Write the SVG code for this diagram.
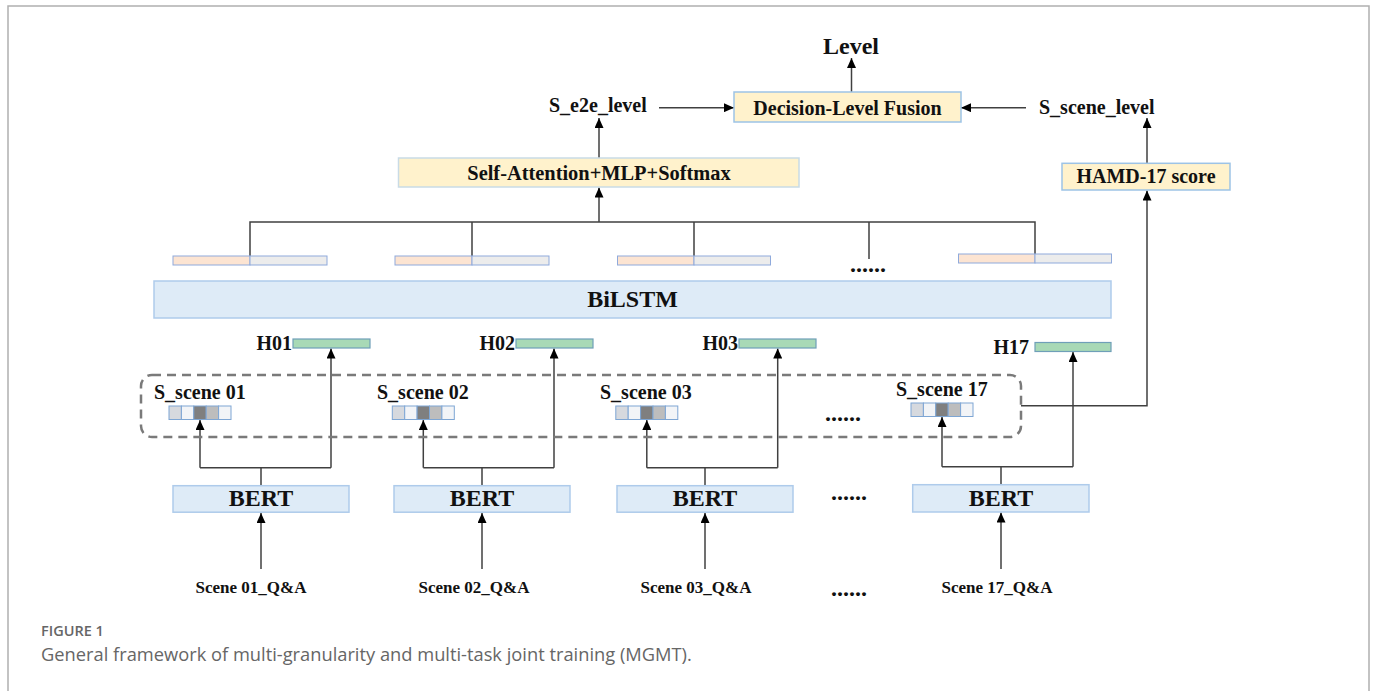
<svg xmlns="http://www.w3.org/2000/svg" width="1375" height="691" viewBox="0 0 1375 691">
<defs>
<marker id="ah" markerUnits="userSpaceOnUse" markerWidth="10" markerHeight="9" refX="10" refY="4.5" orient="auto"><path d="M0,0 L10,4.5 L0,9 z" fill="#000"/></marker>
<style>
.t{font-family:"Liberation Serif","Times New Roman",serif;font-weight:bold;fill:#111}
.cr{fill:#fff2cc;stroke:#9dc3e6;stroke-width:1.5}
.cr2{fill:#fff2cc;stroke:#c9dbe6;stroke-width:1.5}
.bl{fill:#deebf7;stroke:#aecbeb;stroke-width:1.5}
.gr{fill:#a8d9b6;stroke:#6f9fb8;stroke-width:1.2}
.pe{fill:#fce4d2;stroke:#8faadc;stroke-width:1}
.lg{fill:#ececec;stroke:#8faadc;stroke-width:1}
.ln{fill:none;stroke:#404040;stroke-width:1.5}
.ar{fill:none;stroke:#404040;stroke-width:1.5;marker-end:url(#ah)}
.c{stroke:#7ea6d4;stroke-width:1}
.cap{font-family:"Open Sans","Noto Sans",sans-serif;fill:#666}
</style>
</defs>
<rect width="1375" height="691" fill="#fff"/>
<path d="M8,691 V6 H1369 V691" fill="none" stroke="#b0b0b0" stroke-width="1.5"/>

<g id="connectors">
<line class="ar" x1="851.5" y1="92" x2="851.5" y2="58"/>
<line class="ar" x1="659" y1="107.7" x2="734" y2="107.7"/>
<line class="ar" x1="1026" y1="107.7" x2="961" y2="107.7"/>
<line class="ar" x1="599" y1="158" x2="599" y2="118"/>
<line class="ar" x1="599" y1="222" x2="599" y2="187.5"/>
<path class="ln" d="M250,265 V222 H1035 V263 M472,222 V265 M694,222 V265 M869,222 V259"/>
<line class="ar" x1="1147" y1="163" x2="1147" y2="118"/>
<path class="ar" d="M1021,405.7 H1147 V190.5"/>
<!-- scene 01 -->
<line class="ar" x1="261" y1="569" x2="261" y2="513"/>
<path class="ln" d="M261,485.7 V467.7 M200,467.7 H331"/>
<path class="ar" d="M200,467.7 V420"/>
<path class="ar" d="M331,467.7 V348.5"/>
<!-- scene 02 -->
<line class="ar" x1="482" y1="569" x2="482" y2="513"/>
<path class="ln" d="M482,485.7 V467.7 M423.3,467.7 H554"/>
<path class="ar" d="M423.3,467.7 V420"/>
<path class="ar" d="M554,467.7 V348.5"/>
<!-- scene 03 -->
<line class="ar" x1="705" y1="569" x2="705" y2="513"/>
<path class="ln" d="M705,485.7 V467.7 M646.8,467.7 H777.7"/>
<path class="ar" d="M646.8,467.7 V420"/>
<path class="ar" d="M777.7,467.7 V348.5"/>
<!-- scene 17 -->
<line class="ar" x1="1001" y1="569" x2="1001" y2="512.5"/>
<path class="ln" d="M1001,484.7 V466.7 M942,466.7 H1073"/>
<path class="ar" d="M942,466.7 V417"/>
<path class="ar" d="M1073,466.7 V352"/>
</g>

<g id="level"><text class="t" x="851" y="54" font-size="24" text-anchor="middle">Level</text></g>
<g id="fusion"><rect class="cr" x="734" y="92" width="227" height="30"/><text class="t" x="847.5" y="115" font-size="20" text-anchor="middle">Decision-Level Fusion</text></g>
<g id="s_e2e_level"><text class="t" x="549" y="112" font-size="20">S_e2e_level</text></g>
<g id="s_scene_level"><text class="t" x="1039" y="114" font-size="20">S_scene_level</text></g>
<g id="self_attention"><rect class="cr2" x="398.5" y="158" width="400.5" height="29"/><text class="t" x="599" y="180" font-size="20.4" text-anchor="middle">Self-Attention+MLP+Softmax</text></g>
<g id="hamd"><rect class="cr" x="1062" y="163.3" width="168" height="26.7"/><text class="t" x="1146" y="183" font-size="20" text-anchor="middle">HAMD-17 score</text></g>

<g id="bilstm_outputs">
<rect class="pe" x="173" y="256" width="77" height="9"/><rect class="lg" x="250" y="256" width="77" height="9"/>
<rect class="pe" x="395" y="256" width="77" height="9"/><rect class="lg" x="472" y="256" width="77" height="9"/>
<rect class="pe" x="617.5" y="256" width="76.5" height="9"/><rect class="lg" x="694" y="256" width="76.5" height="9"/>
<rect class="pe" x="958.5" y="254" width="76.5" height="9"/><rect class="lg" x="1035" y="254" width="76.5" height="9"/>
<text class="t" x="868" y="272" font-size="24" text-anchor="middle">......</text>
</g>

<g id="bilstm"><rect class="bl" x="154" y="281" width="957" height="37"/><text class="t" x="632.5" y="307" font-size="24" text-anchor="middle">BiLSTM</text></g>

<g id="h01"><rect class="gr" x="293" y="339" width="77" height="9"/><text class="t" x="292" y="350" font-size="20" text-anchor="end">H01</text></g>
<g id="h02"><rect class="gr" x="516" y="339" width="77" height="9"/><text class="t" x="515" y="350" font-size="20" text-anchor="end">H02</text></g>
<g id="h03"><rect class="gr" x="739" y="339" width="77" height="9"/><text class="t" x="738" y="350" font-size="20" text-anchor="end">H03</text></g>
<g id="h17"><rect class="gr" x="1035" y="342.5" width="76" height="9"/><text class="t" x="1029" y="354" font-size="20" text-anchor="end">H17</text></g>

<g id="scene_scores">
<rect x="141" y="375" width="880" height="62" rx="11" fill="none" stroke="#7a7a7a" stroke-width="2.5" stroke-dasharray="9 6"/>
<text class="t" x="154" y="399" font-size="20">S_scene 01</text>
<g><rect class="c" x="169" y="406" width="12.4" height="13.5" fill="#d6d9de"/><rect class="c" x="181.4" y="406" width="12.4" height="13.5" fill="#f2f4f7"/><rect class="c" x="193.8" y="406" width="12.4" height="13.5" fill="#7f7f7f"/><rect class="c" x="206.2" y="406" width="12.4" height="13.5" fill="#bdbdbd"/><rect class="c" x="218.6" y="406" width="12.4" height="13.5" fill="#f2f4f7"/></g>
<text class="t" x="377" y="399" font-size="20">S_scene 02</text>
<g><rect class="c" x="392.3" y="406" width="12.4" height="13.5" fill="#d6d9de"/><rect class="c" x="404.7" y="406" width="12.4" height="13.5" fill="#f2f4f7"/><rect class="c" x="417.1" y="406" width="12.4" height="13.5" fill="#7f7f7f"/><rect class="c" x="429.5" y="406" width="12.4" height="13.5" fill="#bdbdbd"/><rect class="c" x="441.9" y="406" width="12.4" height="13.5" fill="#f2f4f7"/></g>
<text class="t" x="600" y="399" font-size="20">S_scene 03</text>
<g><rect class="c" x="615.8" y="406" width="12.4" height="13.5" fill="#d6d9de"/><rect class="c" x="628.2" y="406" width="12.4" height="13.5" fill="#f2f4f7"/><rect class="c" x="640.6" y="406" width="12.4" height="13.5" fill="#7f7f7f"/><rect class="c" x="653" y="406" width="12.4" height="13.5" fill="#bdbdbd"/><rect class="c" x="665.4" y="406" width="12.4" height="13.5" fill="#f2f4f7"/></g>
<text class="t" x="896" y="396" font-size="20">S_scene 17</text>
<g><rect class="c" x="911" y="403" width="12.4" height="13.5" fill="#d6d9de"/><rect class="c" x="923.4" y="403" width="12.4" height="13.5" fill="#f2f4f7"/><rect class="c" x="935.8" y="403" width="12.4" height="13.5" fill="#7f7f7f"/><rect class="c" x="948.2" y="403" width="12.4" height="13.5" fill="#bdbdbd"/><rect class="c" x="960.6" y="403" width="12.4" height="13.5" fill="#f2f4f7"/></g>
<text class="t" x="843" y="421" font-size="24" text-anchor="middle">......</text>
</g>

<g id="bert01"><rect class="bl" x="173" y="485.7" width="176" height="26.5"/><text class="t" x="261" y="506" font-size="24" text-anchor="middle">BERT</text></g>
<g id="bert02"><rect class="bl" x="394" y="485.7" width="176" height="26.5"/><text class="t" x="482" y="506" font-size="24" text-anchor="middle">BERT</text></g>
<g id="bert03"><rect class="bl" x="617" y="485.7" width="176" height="26.5"/><text class="t" x="705" y="506" font-size="24" text-anchor="middle">BERT</text></g>
<g id="bert17"><rect class="bl" x="912.7" y="484.7" width="176.3" height="27.3"/><text class="t" x="1001" y="506" font-size="24" text-anchor="middle">BERT</text></g>
<g id="bert_dots"><text class="t" x="849" y="500" font-size="24" text-anchor="middle">......</text></g>

<g id="scene01"><text class="t" x="251" y="592.5" font-size="17" text-anchor="middle">Scene 01_Q&amp;A</text></g>
<g id="scene02"><text class="t" x="474" y="592.5" font-size="17" text-anchor="middle">Scene 02_Q&amp;A</text></g>
<g id="scene03"><text class="t" x="696" y="592.5" font-size="17" text-anchor="middle">Scene 03_Q&amp;A</text></g>
<g id="scene17"><text class="t" x="997" y="592.5" font-size="17" text-anchor="middle">Scene 17_Q&amp;A</text></g>
<g id="scene_dots"><text class="t" x="849" y="596" font-size="24" text-anchor="middle">......</text></g>

<g id="caption">
<text class="cap" x="41" y="636" font-size="14.5" font-weight="600" fill="#555">FIGURE 1</text>
<text class="cap" x="41" y="661" font-size="18.3">General framework of multi-granularity and multi-task joint training (MGMT).</text>
</g>
</svg>
